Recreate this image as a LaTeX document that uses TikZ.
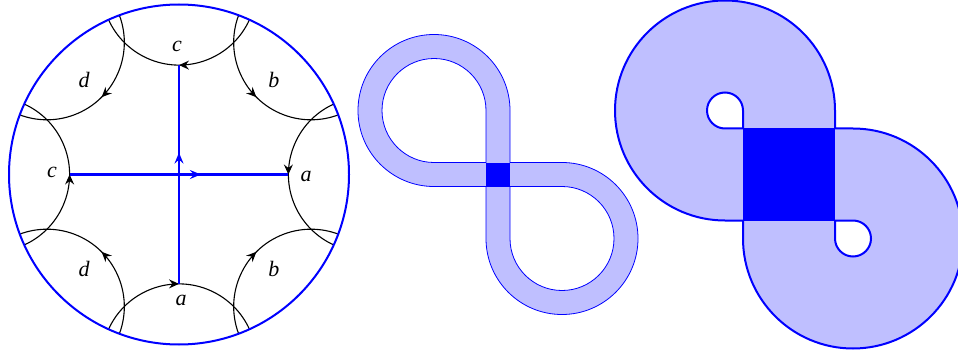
\documentclass[tikz,border=0pt]{standalone}
\usepackage{fontspec}
\newfontfamily\lblfont{Liberation Serif}
\usetikzlibrary{arrows.meta,decorations.markings}
\begin{document}
\begin{tikzpicture}[x=1pt,y=1pt,
  marc/.style={black, line width=1.1pt, postaction={decorate},
    decoration={markings, mark=at position 0.5 with {\arrow{Stealth[length=10pt,width=9pt,inset=3.5pt]}}}},
  bluecross/.style={blue, line width=2.6pt, postaction={decorate},
    decoration={markings, mark=at position 0.6 with {\arrow{Stealth[length=11pt,width=9pt,inset=4pt]}}}},
  rim/.style={blue, line width=2pt},
  lbl/.style={font=\lblfont\fontsize{22}{26}\selectfont\itshape, inner sep=0pt},
  band/.style={fill=blue!25, draw=blue, even odd rule},
  core/.style={fill=blue}
]
\useasboundingbox (0,0) rectangle (958,354);

% ---------- left: hyperbolic octagon ----------
\coordinate (O) at (179,179.5);
\begin{scope}[shift={(O)}]
  \foreach \p/\dir in {0/1, 45/1, 90/-1, 135/-1, 180/1, 225/1, 270/-1, 315/-1} {
    \pgfmathsetmacro\ta{\p+180-65.53*\dir}
    \pgfmathsetmacro\tb{\p+180+65.53*\dir}
    \draw[marc] ([shift={(\p:186.8)}]\ta:77.4) arc[start angle=\ta, end angle=\tb, radius=77.4];
  }
  \coordinate (mE) at (0:109.4);
  \coordinate (mN) at (90:109.4);
  \coordinate (mW) at (180:109.4);
  \coordinate (mS) at (270:109.4);
  \node[lbl] (l1) at (127,-1.5) {a};
  \node[lbl] (l2) at (45:134) {b};
  \node[lbl] (l3) at (-2,128.5) {c};
  \node[lbl] (l4) at (135:134) {d};
  \node[lbl] (l5) at (-127,2.5) {c};
  \node[lbl] (l6) at (225:134) {d};
  \node[lbl] (l7) at (2,-125.5) {a};
  \node[lbl] (l8) at (315:134) {b};
\end{scope}
\draw[bluecross] (mW) -- (mE);
\draw[bluecross] (mS) -- (mN);
\draw[rim] (O) circle[radius=170];

% ---------- middle: thin figure-eight band ----------
\begin{scope}[shift={(498,179.5)}]
  \path[band, line width=0.8pt]
    (12,12) -- (12,64) arc[start angle=0,end angle=270,radius=76] -- (-12,-12)
      -- (-12,-64) arc[start angle=180,end angle=450,radius=76] -- cycle
    (-12,12) -- (-12,64) arc[start angle=0,end angle=270,radius=52] -- cycle
    (12,-12) -- (12,-64) arc[start angle=180,end angle=450,radius=52] -- cycle;
  \fill[core] (-12,-12) rectangle (12,12);
\end{scope}

% ---------- right: thick figure-eight band ----------
\begin{scope}[shift={(789,179.5)}]
  \path[band, line width=2pt]
    (46,46) -- (46,64) arc[start angle=0,end angle=270,radius=110] -- (-46,-46)
      -- (-46,-64) arc[start angle=180,end angle=450,radius=110] -- cycle
    (-46,46) -- (-46,64) arc[start angle=0,end angle=270,radius=18] -- cycle
    (46,-46) -- (46,-64) arc[start angle=180,end angle=450,radius=18] -- cycle;
  \fill[core] (-46,-46) rectangle (46,46);
\end{scope}
\end{tikzpicture}
\end{document}
